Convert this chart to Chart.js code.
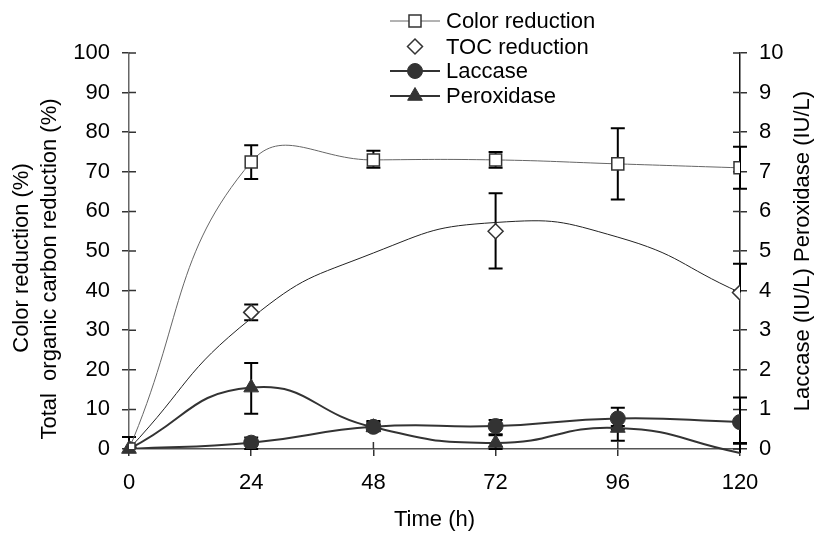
<!DOCTYPE html>
<html><head><meta charset="utf-8">
<script src="https://cdn.jsdelivr.net/npm/chart.js@4.4.1/dist/chart.umd.min.js"></script>
<style>html,body{margin:0;padding:0;background:#fff;}#wrap{width:815px;height:533px;}</style>
</head><body><div id="wrap"><canvas id="c" width="815" height="533"></canvas></div>
<script>
// ---- data ----
const time = [0, 24, 48, 72, 96, 120];
const xTicks = [0, 24, 48, 72, 96, 120];
const colorReduction = [0, 72.5, 73, 73, 72, 71];
const colorErrPlus  = [3, 4.2, 2.3, 2, 9, 5.3];
const colorErrMinus = [0, 4.3, 2, 2, 9, 5.3];
const tocReduction = [0, 34.5, null, 55, null, 39.5];
const tocErrPlus  = [0, 2, null, 9.6, null, 7.3];
const tocErrMinus = [0, 2, null, 9.4, null, 0];
const tocCurve = [0, 33, 49.5, 57.2, 53.5, 39.5];
const laccase = [0, 0.16, 0.56, 0.58, 0.77, 0.68];
const laccaseErrPlus  = [0.3, 0.13, 0.15, 0.15, 0.27, 0.62];
const laccaseErrMinus = [0, 0.16, 0.08, 0.23, 0.27, 0.55];
const peroxidase = [0, 1.55, 0.55, 0.15, 0.53, -0.1];
const peroxidaseErrPlus  = [0, 0.62, 0.12, 0.22, 0.05, 0.25];
const peroxidaseErrMinus = [0, 0.66, 0.1, 0.15, 0.32, 0];
const labels = ['Color reduction', 'TOC reduction', 'Laccase', 'Peroxidase'];
const leftTitle = ['Color reduction (%)', 'Total  organic carbon reduction (%)'];
const rightTitle = 'Laccase (IU/L) Peroxidase (IU/L)';
const xTitle = 'Time (h)';

const FONT = '"Liberation Sans", Arial, Helvetica, sans-serif';
Chart.defaults.font.family = FONT;
Chart.defaults.font.size = 22;
Chart.defaults.color = '#000';

const pts = (arr) => time.map((t, i) => ({x: t, y: arr[i]}));

const errorBars = {
  id: 'errorBars',
  beforeDatasetsDraw(chart) {
    const ctx = chart.ctx;
    chart.data.datasets.forEach((ds) => {
      if (!ds.errPlus) return;
      const xs = chart.scales.x, ys = chart.scales[ds.yAxisID];
      ds.data.forEach((p, j) => {
        if (p.y == null) return;
        const ep = ds.errPlus[j] || 0, em = ds.errMinus[j] || 0;
        if (!ep && !em) return;
        const x = xs.getPixelForValue(p.x);
        const yt = ys.getPixelForValue(p.y + ep);
        const yb = ys.getPixelForValue(p.y - em);
        ctx.save();
        ctx.strokeStyle = '#000'; ctx.lineWidth = 2;
        ctx.beginPath();
        ctx.moveTo(x, yt); ctx.lineTo(x, yb);
        if (ep) { ctx.moveTo(x - 7, yt); ctx.lineTo(x + 7, yt); }
        if (em) { ctx.moveTo(x - 7, yb); ctx.lineTo(x + 7, yb); }
        ctx.stroke(); ctx.restore();
      });
    });
  }
};

const innerTicks = {
  id: 'innerTicks',
  beforeDatasetsDraw(chart) {
    const ctx = chart.ctx, a = chart.chartArea;
    ctx.save(); ctx.lineWidth = 1.5;
    ctx.strokeStyle = '#333';
    ctx.beginPath();
    chart.scales.x.ticks.forEach(t => { const x = chart.scales.x.getPixelForValue(t.value); ctx.moveTo(x, a.bottom); ctx.lineTo(x, a.bottom - 7); });
    chart.scales.y.ticks.forEach(t => { const y = chart.scales.y.getPixelForValue(t.value); ctx.moveTo(a.left, y); ctx.lineTo(a.left + 7, y); });
    chart.scales.y2.ticks.forEach(t => { const y = chart.scales.y2.getPixelForValue(t.value); ctx.moveTo(a.right, y); ctx.lineTo(a.right - 7, y); });
    ctx.stroke(); ctx.restore();
  }
};

const customLegend = {
  id: 'customLegend',
  afterDraw(chart) {
    const ctx = chart.ctx;
    const rows = [21, 46.5, 71, 96];
    const x0 = 390, x1 = 440, xm = 415, xt = 446;
    chart.data.datasets.filter(d => !d.hideInLegend).forEach((ds, i) => {
      const y = rows[i];
      ctx.save();
      if (ds.showLine !== false) {
        ctx.strokeStyle = ds.borderColor; ctx.lineWidth = ds.borderWidth;
        ctx.beginPath(); ctx.moveTo(x0, y); ctx.lineTo(x1, y); ctx.stroke();
      }
      ctx.fillStyle = ds.pointBackgroundColor; ctx.strokeStyle = ds.pointBorderColor;
      ctx.lineWidth = ds.pointBorderWidth;
      const r = Array.isArray(ds.pointRadius) ? ds.pointRadius[1] : ds.pointRadius;
      Chart.helpers.drawPoint(ctx, {pointStyle: ds.pointStyle, radius: r, rotation: 0, borderWidth: ds.pointBorderWidth}, xm, y);
      ctx.fillStyle = '#000'; ctx.font = '22px ' + FONT;
      ctx.textAlign = 'left'; ctx.textBaseline = 'middle';
      ctx.fillText(ds.label, xt, y + 1);
      ctx.restore();
    });
  }
};

const axisTitles = {
  id: 'axisTitles',
  afterDraw(chart) {
    const ctx = chart.ctx, a = chart.chartArea;
    const mid = (a.top + a.bottom) / 2;
    ctx.save();
    ctx.font = '22px ' + FONT; ctx.fillStyle = '#000';
    ctx.textAlign = 'center'; ctx.textBaseline = 'middle';
    const draw = (txt, x, y) => { ctx.save(); ctx.translate(x, y); ctx.rotate(-Math.PI / 2); ctx.fillText(txt, 0, 0); ctx.restore(); };
    draw(leftTitle[0], 22, mid + 7);
    draw(leftTitle[1], 50, mid + 18);
    draw(rightTitle, 803, mid);
    ctx.restore();
  }
};

new Chart(document.getElementById('c'), {
  type: 'line',
  data: {
    datasets: [
      { label: labels[0], data: pts(colorReduction), yAxisID: 'y', errPlus: colorErrPlus, errMinus: colorErrMinus,
        borderColor: '#666', borderWidth: 1, tension: 0.45, pointStyle: 'rect', pointRadius: 8.5,
        pointBackgroundColor: '#fff', pointBorderColor: '#333', pointBorderWidth: 1.5 },
      { label: labels[1], data: pts(tocReduction), yAxisID: 'y', errPlus: tocErrPlus, errMinus: tocErrMinus,
        showLine: false, borderColor: '#333', borderWidth: 1, pointStyle: 'rectRot', pointRadius: 7.5,
        pointBackgroundColor: '#fff', pointBorderColor: '#333', pointBorderWidth: 1.5 },
      { label: 'TOC curve', hideInLegend: true, data: pts(tocCurve), yAxisID: 'y',
        borderColor: '#222', borderWidth: 1, tension: 0.5, pointRadius: 0 },
      { label: labels[2], data: pts(laccase), yAxisID: 'y2', errPlus: laccaseErrPlus, errMinus: laccaseErrMinus,
        borderColor: '#333', borderWidth: 2, tension: 0.5, pointStyle: 'circle', pointRadius: 7.5,
        pointBackgroundColor: '#333', pointBorderColor: '#333', pointBorderWidth: 1 },
      { label: labels[3], data: pts(peroxidase), yAxisID: 'y2', errPlus: peroxidaseErrPlus, errMinus: peroxidaseErrMinus,
        borderColor: '#333', borderWidth: 2, tension: 0.5, pointStyle: 'triangle', pointRadius: [8.5, 8.5, 8.5, 8.5, 8.5, 0],
        pointBackgroundColor: '#333', pointBorderColor: '#333', pointBorderWidth: 1, clip: false }
    ]
  },
  options: {
    responsive: false, animation: false, devicePixelRatio: 1,
    layout: { padding: { top: 53, left: 0, right: 0, bottom: 0 } },
    plugins: { legend: { display: false }, tooltip: { enabled: false } },
    scales: {
      x: { type: 'linear', min: 0, max: 120,
        afterBuildTicks: s => { s.ticks = xTicks.map(v => ({value: v})); },
        afterFit: s => { s.height = 84; },
        ticks: { padding: 14, font: { size: 22 }, color: '#000' },
        grid: { display: true, drawOnChartArea: false, drawTicks: true, tickLength: 7, color: '#333', lineWidth: 1.5 },
        border: { display: true, color: '#555', width: 1.5 },
        title: { display: true, text: xTitle, padding: 0, font: { size: 22 } } },
      y: { position: 'left', min: 0, max: 100,
        afterFit: s => { s.width = 129; },
        ticks: { stepSize: 10, padding: 12, font: { size: 22 }, color: '#000' },
        grid: { display: true, drawOnChartArea: false, drawTicks: true, tickLength: 7, color: '#333', lineWidth: 1.5 },
        border: { display: true, color: '#666', width: 1.5 } },
      y2: { position: 'right', min: 0, max: 10,
        afterFit: s => { s.width = 75; },
        ticks: { stepSize: 1, padding: 12, font: { size: 22 }, color: '#000' },
        grid: { display: true, drawOnChartArea: false, drawTicks: true, tickLength: 7, color: '#333', lineWidth: 1.5 },
        border: { display: true, color: '#111', width: 1.5 } }
    }
  },
  plugins: [innerTicks, errorBars, customLegend, axisTitles]
});
</script>
</body></html>
